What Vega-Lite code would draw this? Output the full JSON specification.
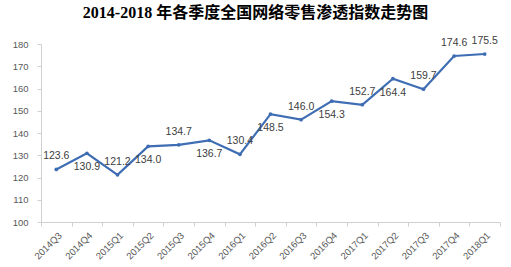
{
  "$schema": "https://vega.github.io/schema/vega-lite/v6.json",
  "width": 459,
  "height": 178,
  "autosize": {"type": "none"},
  "padding": {"left": 41, "top": 44, "right": 11, "bottom": 45},
  "background": "white",
  "title": {
    "text": "2014-2018 年各季度全国网络零售渗透指数走势图",
    "font": "Liberation Serif, Noto Sans CJK SC",
    "fontSize": 16,
    "fontWeight": "bold",
    "color": "#000000",
    "anchor": "middle",
    "dx": -15,
    "offset": 15
  },
  "config": {
    "view": {"stroke": null},
    "axis": {
      "labelFont": "Liberation Sans",
      "labelColor": "#595959",
      "labelFontSize": 9.5,
      "domainColor": "#D0D0D0",
      "tickColor": "#D0D0D0",
      "grid": false,
      "title": null
    }
  },
  "data": {
    "values": [
      {"q": "2014Q3", "v": 123.6},
      {"q": "2014Q4", "v": 130.9},
      {"q": "2015Q1", "v": 121.2},
      {"q": "2015Q2", "v": 134.0},
      {"q": "2015Q3", "v": 134.7},
      {"q": "2015Q4", "v": 136.7},
      {"q": "2016Q1", "v": 130.4},
      {"q": "2016Q2", "v": 148.5},
      {"q": "2016Q3", "v": 146.0},
      {"q": "2016Q4", "v": 154.3},
      {"q": "2017Q1", "v": 152.7},
      {"q": "2017Q2", "v": 164.4},
      {"q": "2017Q3", "v": 159.7},
      {"q": "2017Q4", "v": 174.6},
      {"q": "2018Q1", "v": 175.5}
    ]
  },
  "transform": [{"window": [{"op": "row_number", "as": "idx"}]}],
  "encoding": {
    "x": {
      "field": "q",
      "type": "ordinal",
      "sort": null,
      "scale": {"type": "band", "paddingInner": 0, "paddingOuter": 0},
      "axis": {"labelAngle": -45, "tickBand": "extent", "tickSize": 4, "labelPadding": 4, "title": null}
    },
    "y": {
      "field": "v",
      "type": "quantitative",
      "scale": {"domain": [100, 180], "nice": false, "zero": false},
      "axis": {"values": [100, 110, 120, 130, 140, 150, 160, 170, 180], "tickSize": 4, "labelPadding": 9, "title": null}
    }
  },
  "layer": [
    {
      "mark": {"type": "line", "color": "#3F6DB3", "strokeWidth": 2.2, "point": {"filled": true, "size": 14, "color": "#3F6DB3"}}
    },
    {
      "transform": [{"filter": "datum.idx % 2 == 1 || datum.idx >= 14"}],
      "mark": {"type": "text", "dy": -13, "font": "Liberation Sans", "fontSize": 10.5, "color": "#404040"},
      "encoding": {"text": {"field": "v", "type": "quantitative", "format": ".1f"}}
    },
    {
      "transform": [{"filter": "datum.idx % 2 == 0 && datum.idx < 14"}],
      "mark": {"type": "text", "dy": 14, "font": "Liberation Sans", "fontSize": 10.5, "color": "#404040"},
      "encoding": {"text": {"field": "v", "type": "quantitative", "format": ".1f"}}
    }
  ]
}
